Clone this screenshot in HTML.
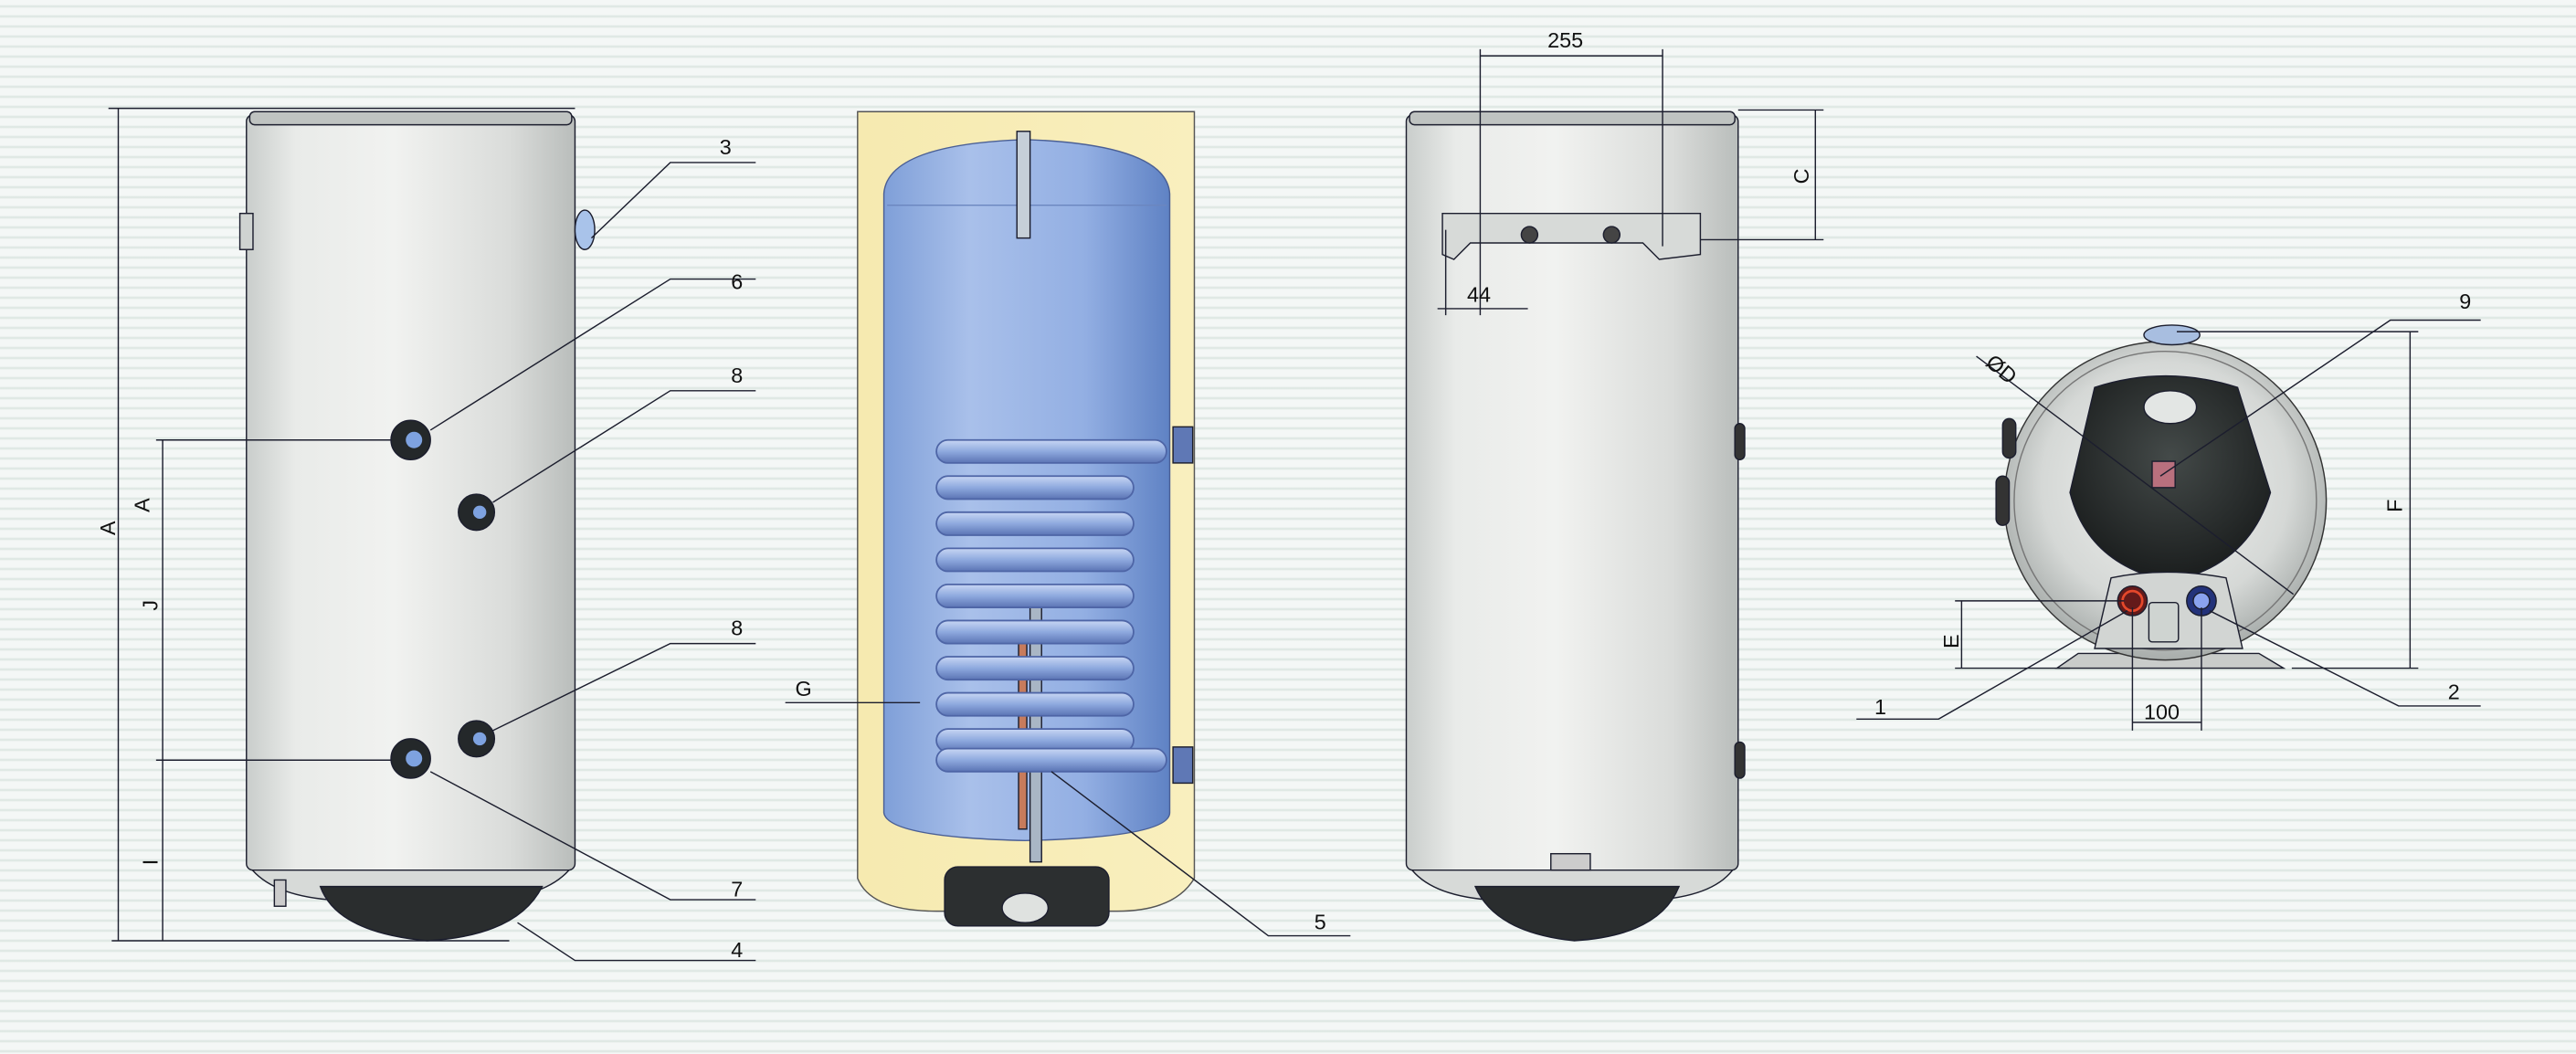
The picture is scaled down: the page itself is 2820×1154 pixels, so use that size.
<!DOCTYPE html>
<html><head><meta charset="utf-8"><style>
html,body{margin:0;padding:0;width:2820px;height:1154px;overflow:hidden;
background:repeating-linear-gradient(180deg,#f4f7f6 0px,#f4f7f6 5px,#d9e4df 7px,#f4f7f6 9px,#f4f7f6 11px);}
svg{display:block}
text{font-family:"Liberation Sans",sans-serif;font-size:13px;fill:#111}
</style></head><body>
<svg width="2820" height="1154" viewBox="0 0 1568 642" preserveAspectRatio="none">
<defs>
<linearGradient id="tank" x1="0" x2="1">
<stop offset="0" stop-color="#c9cdcb"/><stop offset="0.15" stop-color="#e9ebe9"/><stop offset="0.45" stop-color="#f1f2f0"/><stop offset="0.8" stop-color="#dadcda"/><stop offset="1" stop-color="#b9bdbb"/></linearGradient>
<linearGradient id="blue" x1="0" x2="1">
<stop offset="0" stop-color="#7f9fd8"/><stop offset="0.3" stop-color="#a9c0ea"/><stop offset="0.7" stop-color="#93afe3"/><stop offset="1" stop-color="#5f82c4"/></linearGradient>
<linearGradient id="yel" x1="0" x2="1"><stop offset="0" stop-color="#f6eab0"/><stop offset="1" stop-color="#f9efbe"/></linearGradient>
<radialGradient id="disc" cx="0.5" cy="0.45" r="0.55"><stop offset="0" stop-color="#f2f3f1"/><stop offset="0.7" stop-color="#d5d8d6"/><stop offset="1" stop-color="#a8adab"/></radialGradient>
<radialGradient id="dark" cx="0.5" cy="0.4" r="0.6"><stop offset="0" stop-color="#444a49"/><stop offset="1" stop-color="#1b1e1e"/></radialGradient>
<linearGradient id="coil" x1="0" y1="0" x2="0" y2="1"><stop offset="0" stop-color="#c8d6f4"/><stop offset="0.5" stop-color="#8ea9de"/><stop offset="1" stop-color="#5b74b4"/></linearGradient>
</defs>
<g stroke="#1c1e2e" stroke-width="0.8" fill="none">
<!-- Left tank -->
<path d="M152 528 Q165 545 200 548 L300 548 Q335 545 348 528 Z" fill="#d7dad8"/>
<path d="M195 540 Q205 568 260 573 Q315 570 330 540 Z" fill="#2a2d2e"/>
<rect x="150" y="70" width="200" height="460" rx="4" fill="url(#tank)"/>
<rect x="152" y="68" width="196" height="8" rx="3" fill="#bfc3c1"/>
<rect x="146" y="130" width="8" height="22" fill="#cfd3d1"/>
<ellipse cx="356" cy="140" rx="6" ry="12" fill="#a9c3ea"/>
<g fill="#24282a"><circle cx="250" cy="268" r="12"/><circle cx="290" cy="312" r="11"/><circle cx="250" cy="462" r="12"/><circle cx="290" cy="450" r="11"/></g>
<g fill="#7ea2e0" stroke="none"><circle cx="252" cy="268" r="5"/><circle cx="292" cy="312" r="4"/><circle cx="252" cy="462" r="5"/><circle cx="292" cy="450" r="4"/></g>
<rect x="167" y="536" width="7" height="16" fill="#ccc"/>
<!-- Middle cutaway -->
<path d="M522 68 L727 68 L727 535 Q715 555 680 555 L570 555 Q530 555 522 535 Z" fill="url(#yel)" stroke="#555"/>
<path d="M538 118 Q540 88 624 85 Q710 88 712 118 L712 495 Q712 510 624 512 Q540 510 538 495 Z" fill="url(#blue)" stroke="#4a5f95"/>
<line x1="540" y1="125" x2="710" y2="125" stroke="#6b86bf"/>
<rect x="619" y="80" width="8" height="65" fill="#c6cfd8"/>
<rect x="627" y="360" width="7" height="165" fill="#a9b6c5"/>
<rect x="620" y="385" width="5" height="120" fill="#c77b5c"/>
<g stroke="#4e65a6" stroke-width="1" fill="url(#coil)">
<rect x="570" y="268" width="140" height="14" rx="7"/>
<rect x="570" y="290" width="120" height="14" rx="7"/>
<rect x="570" y="312" width="120" height="14" rx="7"/>
<rect x="570" y="334" width="120" height="14" rx="7"/>
<rect x="570" y="356" width="120" height="14" rx="7"/>
<rect x="570" y="378" width="120" height="14" rx="7"/>
<rect x="570" y="400" width="120" height="14" rx="7"/>
<rect x="570" y="422" width="120" height="14" rx="7"/>
<rect x="570" y="444" width="120" height="14" rx="7"/>
<rect x="570" y="456" width="140" height="14" rx="7"/>
</g>
<rect x="714" y="260" width="12" height="22" fill="#5f78b5"/><rect x="714" y="455" width="12" height="22" fill="#5f78b5"/>
<rect x="575" y="528" width="100" height="36" rx="8" fill="#2c2f30"/>
<ellipse cx="624" cy="553" rx="14" ry="9" fill="#dfe2e0"/>
<!-- Right tank -->
<path d="M858 528 Q870 545 905 548 L1010 548 Q1045 545 1056 528 Z" fill="#d7dad8"/>
<path d="M898 540 Q910 568 958 573 Q1010 570 1022 540 Z" fill="#2a2d2e"/>
<rect x="856" y="70" width="202" height="460" rx="4" fill="url(#tank)"/>
<rect x="858" y="68" width="198" height="8" rx="3" fill="#bfc3c1"/>
<path d="M878 130 L1035 130 L1035 155 L1010 158 L1000 148 L895 148 L885 158 L878 155 Z" fill="#d7dad8"/>
<circle cx="931" cy="143" r="5" fill="#444"/><circle cx="981" cy="143" r="5" fill="#444"/>
<rect x="1056" y="258" width="6" height="22" rx="3" fill="#333"/><rect x="1056" y="452" width="6" height="22" rx="3" fill="#333"/>
<rect x="944" y="520" width="24" height="10" fill="#ccc"/>
<!-- Circular view -->
<path d="M1252 407 L1265 398 L1375 398 L1390 407 Z" fill="#c9ccca"/>
<ellipse cx="1318" cy="305" rx="98" ry="97" fill="url(#disc)" stroke="#333"/>
<ellipse cx="1318" cy="305" rx="92" ry="91" stroke="#777"/>
<ellipse cx="1322" cy="204" rx="17" ry="6" fill="#a8bee0"/>
<rect x="1219" y="255" width="8" height="24" rx="4" fill="#333"/><rect x="1215" y="290" width="8" height="30" rx="4" fill="#333"/>
<path d="M1275 236 Q1318 222 1362 236 L1382 300 Q1370 340 1330 352 L1312 352 Q1270 340 1260 300 Z" fill="url(#dark)"/>
<ellipse cx="1321" cy="248" rx="16" ry="10" fill="#e3e6e4"/>
<rect x="1310" y="281" width="14" height="16" fill="#b9707e"/>
<path d="M1285 352 Q1318 345 1355 352 L1365 395 L1275 395 Z" fill="#d2d5d3"/>
<circle cx="1298" cy="366" r="9" fill="#641a1a"/><circle cx="1298" cy="366" r="6" stroke="#e5482b" stroke-width="1.5"/>
<circle cx="1340" cy="366" r="9" fill="#23327a"/><circle cx="1340" cy="366" r="5" fill="#8aa2ee"/>
<rect x="1308" y="367" width="18" height="24" rx="2" fill="#cfd4d1"/>
</g>

<!-- Dimension & leader lines -->
<g stroke="#1c1e2e" stroke-width="0.8" fill="none">
<line x1="66" y1="66" x2="350" y2="66"/><line x1="72" y1="66" x2="72" y2="573"/>
<line x1="68" y1="573" x2="310" y2="573"/>
<line x1="95" y1="268" x2="238" y2="268"/><line x1="95" y1="463" x2="238" y2="463"/>
<line x1="99" y1="268" x2="99" y2="573"/>
<polyline points="360,145 408,99 460,99"/>
<polyline points="262,262 408,170 460,170"/>
<polyline points="300,306 408,238 460,238"/>
<polyline points="300,445 408,392 460,392"/>
<polyline points="262,470 408,548 460,548"/>
<polyline points="315,562 350,585 460,585"/>
<polyline points="640,470 772,570 822,570"/>
<line x1="478" y1="428" x2="560" y2="428"/>
<line x1="901" y1="30" x2="901" y2="192"/><line x1="1012" y1="30" x2="1012" y2="150"/>
<line x1="901" y1="34" x2="1012" y2="34"/>
<line x1="875" y1="188" x2="930" y2="188"/><line x1="880" y1="140" x2="880" y2="192"/>
<line x1="1058" y1="67" x2="1110" y2="67"/><line x1="1035" y1="146" x2="1110" y2="146"/><line x1="1105" y1="67" x2="1105" y2="146"/>
<line x1="1325" y1="202" x2="1472" y2="202"/><line x1="1395" y1="407" x2="1472" y2="407"/><line x1="1467" y1="202" x2="1467" y2="407"/>
<line x1="1190" y1="366" x2="1293" y2="366"/><line x1="1190" y1="407" x2="1260" y2="407"/><line x1="1194" y1="366" x2="1194" y2="407"/>
<line x1="1298" y1="370" x2="1298" y2="445"/><line x1="1340" y1="370" x2="1340" y2="445"/><line x1="1298" y1="440" x2="1340" y2="440"/>
<line x1="1203" y1="217" x2="1396" y2="362"/>
<polyline points="1315,290 1455,195 1510,195"/>
<polyline points="1295,372 1180,438 1130,438"/>
<polyline points="1345,372 1460,430 1510,430"/>
</g>
<text x="438" y="94">3</text><text x="445" y="176">6</text><text x="445" y="233">8</text><text x="445" y="387">8</text>
<text x="445" y="546">7</text><text x="445" y="583">4</text><text x="800" y="566">5</text><text x="484" y="424">G</text>
<text x="942" y="29">255</text><text x="893" y="184">44</text>
<text x="1497" y="188">9</text><text x="1490" y="426">2</text><text x="1141" y="435">1</text><text x="1305" y="438">100</text>
<text transform="translate(70,326) rotate(-90)">A</text>
<text transform="translate(91,312) rotate(-90)">A</text>
<text transform="translate(96,372) rotate(-90)">J</text>
<text transform="translate(96,527) rotate(-90)">I</text>
<text transform="translate(1101,112) rotate(-90)">C</text>
<text transform="translate(1462,312) rotate(-90)">F</text>
<text transform="translate(1192,395) rotate(-90)">E</text>
<text transform="translate(1208,222) rotate(40)">ØD</text>
</svg>
</body></html>
